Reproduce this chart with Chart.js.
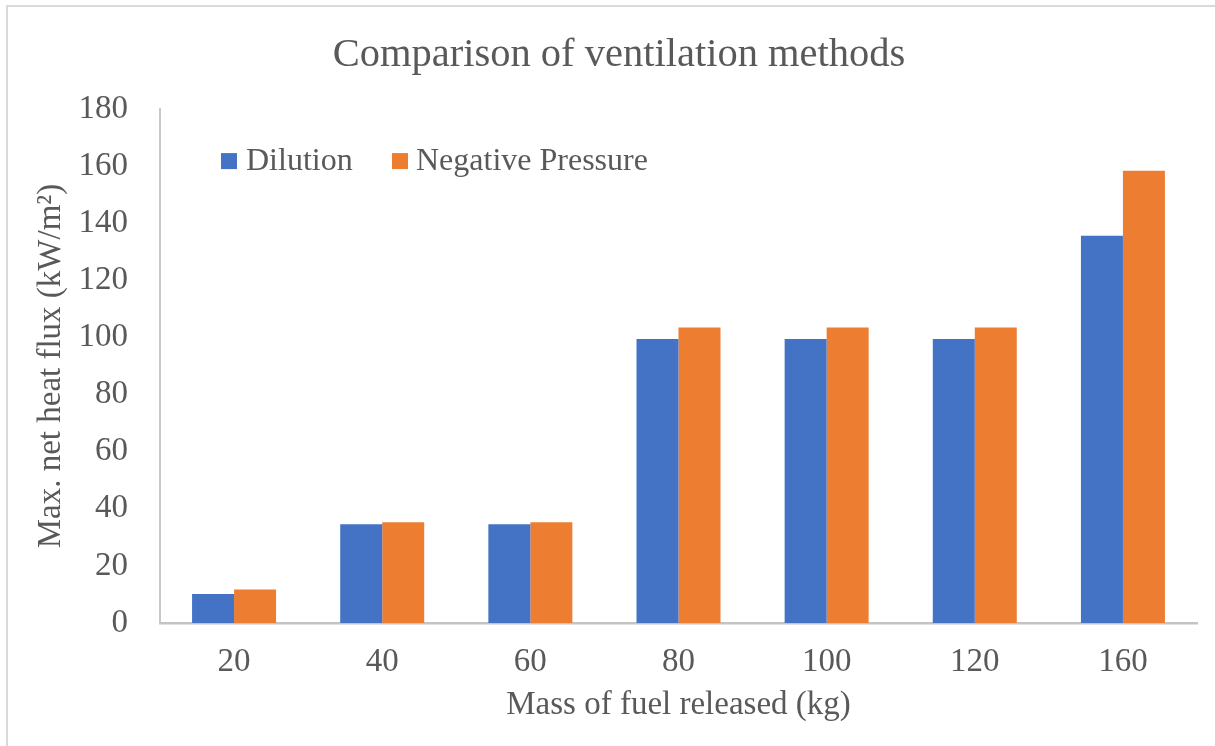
<!DOCTYPE html>
<html>
<head>
<meta charset="utf-8">
<script src="https://cdn.jsdelivr.net/npm/chart.js@4.4.1/dist/chart.umd.min.js"></script>
<style>
  html, body { margin: 0; padding: 0; background: #ffffff; }
  #wrap { position: relative; width: 1215px; height: 746px; overflow: hidden; }
  #frame { position: absolute; left: 6px; top: 5px; right: -10px; bottom: -10px;
           border-top: 2px solid #d9d9d9; border-left: 2px solid #d9d9d9; pointer-events: none; }
  canvas { position: absolute; left: 0; top: 0; }
</style>
</head>
<body>
<div id="wrap">
  <canvas id="c" width="1215" height="746"></canvas>
  <div id="frame"></div>
</div>
<script>
const categories = ['20', '40', '60', '80', '100', '120', '160'];
const dilution = [10.2, 34.6, 34.6, 99.5, 99.5, 99.5, 135.6];
const negativePressure = [11.7, 35.3, 35.3, 103.5, 103.5, 103.5, 158.4];
const seriesNames = ['Dilution', 'Negative Pressure'];
const yTicks = [0, 20, 40, 60, 80, 100, 120, 140, 160, 180];

const FONT = "'Liberation Serif', 'Times New Roman', serif";
const GREY = '#595959';

const insideLegend = {
  id: 'insideLegend',
  afterDraw(chart) {
    const ctx = chart.ctx;
    const area = chart.chartArea;
    const y = area.top + 52;
    const box = 16;
    const items = [
      { x: area.left + 61, tx: area.left + 86 },
      { x: area.left + 232, tx: area.left + 256 }
    ];
    ctx.save();
    ctx.font = '32px ' + FONT;
    ctx.textBaseline = 'middle';
    ctx.textAlign = 'left';
    chart.data.datasets.forEach((ds, i) => {
      const it = items[i];
      ctx.fillStyle = ds.backgroundColor;
      ctx.fillRect(it.x, y - box / 2, box, box);
      ctx.fillStyle = GREY;
      ctx.fillText(ds.label, it.tx, y);
    });
    ctx.restore();
  }
};

new Chart(document.getElementById('c'), {
  type: 'bar',
  data: {
    labels: categories,
    datasets: [
      { label: seriesNames[0], data: dilution, backgroundColor: '#4472C4', borderWidth: 0 },
      { label: seriesNames[1], data: negativePressure, backgroundColor: '#ED7D31', borderWidth: 0 }
    ]
  },
  options: {
    responsive: false,
    animation: false,
    devicePixelRatio: 1,
    layout: { padding: { left: 41, right: 18, top: 0, bottom: 0 } },
    datasets: { bar: { barPercentage: 1.0, categoryPercentage: 0.567 } },
    plugins: {
      legend: { display: false },
      tooltip: { enabled: false },
      title: {
        display: true,
        text: 'Comparison of ventilation methods',
        color: GREY,
        font: { family: FONT, size: 40.5, weight: 'normal', lineHeight: 1.2 },
        padding: { top: 31.5, bottom: 29 }
      }
    },
    scales: {
      x: {
        grid: { display: false, drawTicks: false },
        border: { display: true, color: '#c4c4c4', width: 2.5 },
        ticks: { color: GREY, font: { family: FONT, size: 33 }, padding: 20, maxRotation: 0 },
        title: {
          display: true,
          text: 'Mass of fuel released (kg)',
          color: GREY,
          font: { family: FONT, size: 33, lineHeight: 1.2 },
          padding: { top: 0, bottom: 21 }
        },
        afterFit(scale) { scale.height = 123; }
      },
      y: {
        min: 0,
        max: 180,
        grid: { display: false, drawTicks: false },
        border: { display: true, color: '#c8c8c8', width: 2 },
        afterBuildTicks(scale) { scale.ticks = yTicks.map(v => ({ value: v })); },
        ticks: { color: GREY, font: { family: FONT, size: 33 }, padding: 32 },
        title: {
          display: true,
          text: 'Max. net heat flux (kW/m²)',
          color: GREY,
          font: { family: FONT, size: 33, lineHeight: 0.6 },
          padding: { top: 0, bottom: 0 }
        },
        afterFit(scale) { scale.width = 119; }
      }
    }
  },
  plugins: [insideLegend]
});
</script>
</body>
</html>
